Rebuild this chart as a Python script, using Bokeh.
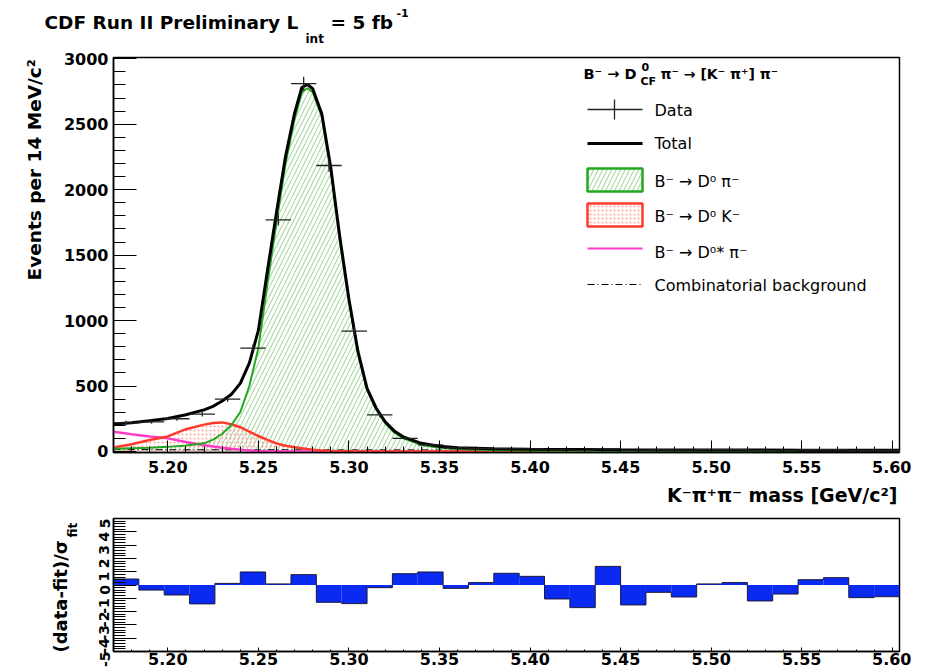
import math
from bokeh.plotting import figure
from bokeh.models import Range1d, FixedTicker, Label, GridBox
from bokeh.embed import file_html
from bokeh.resources import INLINE

# ---------------- data ----------------
# bin centres (14 MeV bins from 5.170 to 5.604 GeV/c^2)
data_x = [5.177, 5.191, 5.205, 5.219, 5.233, 5.247, 5.261, 5.275, 5.289, 5.303,
          5.317, 5.331, 5.345, 5.359, 5.373, 5.387, 5.401, 5.415, 5.429, 5.443,
          5.457, 5.471, 5.485, 5.499, 5.513, 5.527, 5.541, 5.555, 5.569, 5.583, 5.597]
data_y = [219, 226, 250, 285, 400, 790, 1770, 2810, 2185, 920,
          280, 100, 50, 28, 23, 22, 19, 12, 9, 19,
          8, 11, 10, 13, 13, 8, 9, 13, 13, 8, 8]
data_err = [15, 15, 16, 17, 20, 28, 42, 53, 47, 30,
            17, 10, 7, 5, 5, 5, 4, 3, 3, 4,
            3, 3, 3, 4, 4, 3, 3, 4, 4, 3, 3]

# fit curves sampled at these masses
curve_x = [5.170, 5.180, 5.190, 5.200, 5.210, 5.220, 5.225, 5.230, 5.235, 5.240,
           5.245, 5.250, 5.255, 5.260, 5.265, 5.270, 5.274, 5.277, 5.280, 5.285,
           5.290, 5.295, 5.300, 5.305, 5.310, 5.315, 5.320, 5.325, 5.330, 5.340,
           5.350, 5.360, 5.380, 5.400, 5.450, 5.500, 5.550, 5.604]
sig_dpi = [20, 24, 28, 35, 46, 62, 90, 135, 200, 300,
           500, 790, 1280, 1750, 2200, 2540, 2745, 2775, 2745, 2560,
           2150, 1620, 1150, 750, 470, 320, 215, 145, 100, 50,
           28, 18, 10, 6, 3, 2, 1, 1]
bkg_dk = [30, 55, 88, 115, 170, 205, 218, 222, 208, 185,
          152, 118, 88, 62, 43, 32, 24, 18, 14, 8,
          4, 2, 1, 0, 0, 0, 0, 0, 0, 0,
          0, 0, 0, 0, 0, 0, 0, 0]
bkg_dstar = [150, 132, 115, 100, 72, 48, 38, 29, 20, 14,
             8, 4, 2, 1, 0, 0, 0, 0, 0, 0,
             0, 0, 0, 0, 0, 0, 0, 0, 0, 0,
             0, 0, 0, 0, 0, 0, 0, 0]
bkg_comb = [14, 14, 14, 13, 13, 13, 13, 13, 13, 13,
            13, 13, 13, 13, 13, 13, 12, 12, 12, 12,
            12, 12, 12, 12, 12, 12, 12, 12, 12, 12,
            11, 11, 11, 11, 10, 10, 9, 9]
fit_total = [210, 220, 235, 252, 280, 318, 345, 385, 435, 520,
             675, 925, 1380, 1826, 2256, 2585, 2781, 2805, 2771, 2580,
             2166, 1634, 1163, 762, 482, 332, 227, 157, 112, 62,
             39, 29, 21, 17, 13, 12, 10, 10]

# pulls (data-fit)/sigma per bin
pull = [0.45, -0.38, -0.75, -1.42, 0.12, 0.98, 0.08, 0.78, -1.30, -1.40,
        -0.20, 0.85, 0.98, -0.25, 0.18, 0.88, 0.65, -1.05, -1.70, 1.40,
        -1.50, -0.55, -0.90, 0.08, 0.18, -1.20, -0.68, 0.40, 0.55, -0.95, -0.88]

xtick_vals = [5.20, 5.25, 5.30, 5.35, 5.40, 5.45, 5.50, 5.55, 5.60]
xtick_labels = ["5.20", "5.25", "5.30", "5.35", "5.40", "5.45", "5.50", "5.55", "5.60"]
ytick_vals = [0, 500, 1000, 1500, 2000, 2500, 3000]
rtick_vals = [-5, -4, -3, -2, -1, 0, 1, 2, 3, 4, 5]
rtick_labels = ["-5", "-4", "-3", "-2", "-1", "0", "1", "2", "3", "4", "5"]

# ---------------- style / layout (page pixels) ----------------
FONT = "DejaVu Sans"
X0, X1 = 5.17, 5.604
Y0, Y1 = -8, 3010
HALF = 0.007
W = 911
FL = 113            # frame left
FW = 786            # frame width
FT, FB = 57, 452    # main frame top / bottom
MAIN_H = 505
RT, RB = 518, 651   # residual frame top / bottom
RES_H = 167

GREEN = "#22a822"
GREEN_H = "#a9d9a3"
RED = "#ff3a2a"
RED_H = "#ff9d94"
PINK = "#ff3cc8"
BLUE = "#0a2af2"

xminor = [round(5.17 + 0.01 * i, 2) for i in range(44)]
yminor = [100 * i for i in range(31)]
rminor = [round(-5 + 0.2 * i, 1) for i in range(51)]


def style_axes(fig, xt_in, xm_in, yt_in, ym_in):
    fig.grid.visible = False
    fig.outline_line_color = "black"
    fig.outline_line_width = 1.5
    fig.background_fill_color = "white"
    fig.border_fill_color = "white"
    for ax in (fig.xaxis[0], fig.yaxis[0]):
        ax.axis_line_color = "black"
        ax.axis_line_width = 1.5
        ax.major_tick_line_color = "black"
        ax.minor_tick_line_color = "black"
        ax.major_tick_out = 0
        ax.minor_tick_out = 0
        ax.major_label_text_font = FONT
        ax.major_label_text_font_style = "bold"
        ax.major_label_text_color = "black"
    fig.xaxis.major_tick_in = xt_in
    fig.xaxis.minor_tick_in = xm_in
    fig.yaxis.major_tick_in = yt_in
    fig.yaxis.minor_tick_in = ym_in


# ---------------- main plot ----------------
p = figure(width=W, height=MAIN_H, output_backend="svg", toolbar_location=None,
           x_range=Range1d(X0, X1), y_range=Range1d(Y0, Y1),
           min_border_left=FL, min_border_right=W - FL - FW, min_border_top=FT,
           min_border_bottom=MAIN_H - FB)
p.title.visible = False
style_axes(p, 12, 6, 23, 12)
p.xaxis.ticker = FixedTicker(ticks=xtick_vals, minor_ticks=xminor)
p.xaxis.major_label_overrides = dict(zip(xtick_vals, xtick_labels))
p.yaxis.ticker = FixedTicker(ticks=ytick_vals, minor_ticks=yminor)
p.xaxis.major_label_text_font_size = "16px"
p.yaxis.major_label_text_font_size = "16px"
p.xaxis.major_label_standoff = 8
p.yaxis.major_label_standoff = 5

p.varea(x=curve_x, y1=0, y2=sig_dpi, fill_alpha=0, hatch_pattern="/",
        hatch_color=GREEN_H, hatch_scale=9, hatch_weight=1.1)
p.varea(x=curve_x, y1=0, y2=bkg_dk, fill_alpha=0, hatch_pattern=".",
        hatch_color=RED_H, hatch_scale=4, hatch_weight=1.5)

p.line(curve_x, bkg_comb, color="black", line_width=1, line_dash="7 3 1 3")
p.line(curve_x, bkg_dstar, color=PINK, line_width=2.5)
p.line(curve_x, bkg_dk, color=RED, line_width=2.5)
p.line(curve_x, sig_dpi, color=GREEN, line_width=2)
p.line(curve_x, fit_total, color="black", line_width=3)

lo = [c - HALF for c in data_x]
hi = [c + HALF for c in data_x]
p.segment(x0=lo, y0=data_y, x1=hi, y1=data_y, color="#222222", line_width=1.3)
p.segment(x0=data_x, y0=[v - e for v, e in zip(data_y, data_err)],
          x1=data_x, y1=[v + e for v, e in zip(data_y, data_err)],
          color="#222222", line_width=1.3)


def dx(X):
    return X0 + (X - FL) * (X1 - X0) / FW


def dy(Y):
    return Y0 + (FB - Y) * (Y1 - Y0) / (FB - FT)


# legend symbols (ROOT style, drawn by hand)
LX0, LX1, LXM, LT = 587, 642, 614, 654
p.segment(x0=[dx(LX0)], y0=[dy(109)], x1=[dx(LX1)], y1=[dy(109)], color="#222222", line_width=1.3)
p.segment(x0=[dx(LXM)], y0=[dy(99)], x1=[dx(LXM)], y1=[dy(119)], color="#222222", line_width=1.3)
p.line([dx(LX0), dx(LX1)], [dy(143), dy(143)], color="black", line_width=3)
p.quad(left=[dx(LX0)], right=[dx(LX1)], top=[dy(168)], bottom=[dy(191)], fill_alpha=0,
       hatch_pattern="/", hatch_color=GREEN_H, hatch_scale=9, hatch_weight=1.1,
       line_color=GREEN, line_width=2.5)
p.quad(left=[dx(LX0)], right=[dx(LX1)], top=[dy(203)], bottom=[dy(226)], fill_alpha=0,
       hatch_pattern=".", hatch_color=RED_H, hatch_scale=4, hatch_weight=1.5,
       line_color=RED, line_width=2.5)
p.line([dx(LX0), dx(LX1)], [dy(248), dy(248)], color=PINK, line_width=2)
p.line([dx(LX0), dx(LX1)], [dy(284), dy(284)], color="black", line_width=1, line_dash="7 3 1 3")

# ---------------- residual plot ----------------
r = figure(width=W, height=RES_H, output_backend="svg", toolbar_location=None,
           x_range=p.x_range, y_range=Range1d(-5, 5),
           min_border_left=FL, min_border_right=W - FL - FW, min_border_top=RT - MAIN_H,
           min_border_bottom=MAIN_H + RES_H - RB)
r.title.visible = False
style_axes(r, 4, 2, 23, 12)
r.xaxis.ticker = FixedTicker(ticks=xtick_vals, minor_ticks=xminor)
r.xaxis.major_label_overrides = dict(zip(xtick_vals, xtick_labels))
r.yaxis.ticker = FixedTicker(ticks=rtick_vals, minor_ticks=rminor)
r.yaxis.major_label_overrides = dict(zip(rtick_vals, rtick_labels))
r.xaxis.major_label_text_font_size = "16px"
r.yaxis.major_label_text_font_size = "14px"
r.xaxis.major_label_standoff = 1
r.yaxis.major_label_standoff = 9
r.yaxis.major_label_orientation = math.pi / 2

r.quad(left=lo, right=hi, bottom=0, top=pull, fill_color=BLUE, line_color=None)
r.step(x=lo + [hi[-1]], y=pull + [pull[-1]], mode="after", color="#1a1a3a", line_width=1)

# ---------------- transparent text overlay (page pixel coordinates) ----------------
ov = figure(width=W, height=MAIN_H + RES_H, output_backend="svg", toolbar_location=None,
            x_range=Range1d(0, W), y_range=Range1d(MAIN_H + RES_H, 0),
            x_axis_type=None, y_axis_type=None,
            min_border_left=0, min_border_right=0, min_border_top=0, min_border_bottom=0)
ov.frame_align = False
ov.title.visible = False
ov.grid.visible = False
ov.outline_line_color = None
ov.background_fill_alpha = 0
ov.border_fill_alpha = 0


def add_text(X, Y, s, size, bold=False, angle=0.0, align="left"):
    ov.add_layout(Label(x=X, y=Y, text=s, text_font=FONT, text_font_size=f"{size}px",
                        text_font_style="bold" if bold else "normal",
                        angle=angle, text_align=align, text_baseline="middle",
                        text_color="black"))


# title
add_text(44, 21.5, "CDF Run II Preliminary L", 18.5, bold=True)
add_text(305, 38, "int", 12, bold=True)
add_text(330, 21.5, "= 5 fb", 18.5, bold=True)
add_text(396, 12, "-1", 11, bold=True)
# axis titles
add_text(34, 280, "Events per 14 MeV/c²", 18.5, bold=True, angle=math.pi / 2)
add_text(897, 494, "K⁻π⁺π⁻ mass [GeV/c²]", 19, bold=True, align="right")
add_text(60, 652, "(data-fit)/σ", 18, bold=True, angle=math.pi / 2)
add_text(72, 537, "fit", 12, bold=True, angle=math.pi / 2)
# legend texts
add_text(583, 73, "B⁻ → D", 14.5, bold=True)
add_text(641, 66, "0", 11, bold=True)
add_text(640, 81, "CF", 11, bold=True)
add_text(660, 73, "π⁻ → [K⁻ π⁺] π⁻", 14, bold=True)
add_text(LT, 110, "Data", 16)
add_text(LT, 143, "Total", 16)
add_text(LT, 181, "B⁻ → D⁰ π⁻", 16)
add_text(LT, 216, "B⁻ → D⁰ K⁻", 16)
add_text(LT, 252, "B⁻ → D⁰* π⁻", 16)
add_text(LT, 285, "Combinatorial background", 16)

layout = GridBox(children=[(p, 0, 0), (r, 1, 0), (ov, 0, 0, 2, 1)])
open("out.html", "w").write(file_html(layout, INLINE))
